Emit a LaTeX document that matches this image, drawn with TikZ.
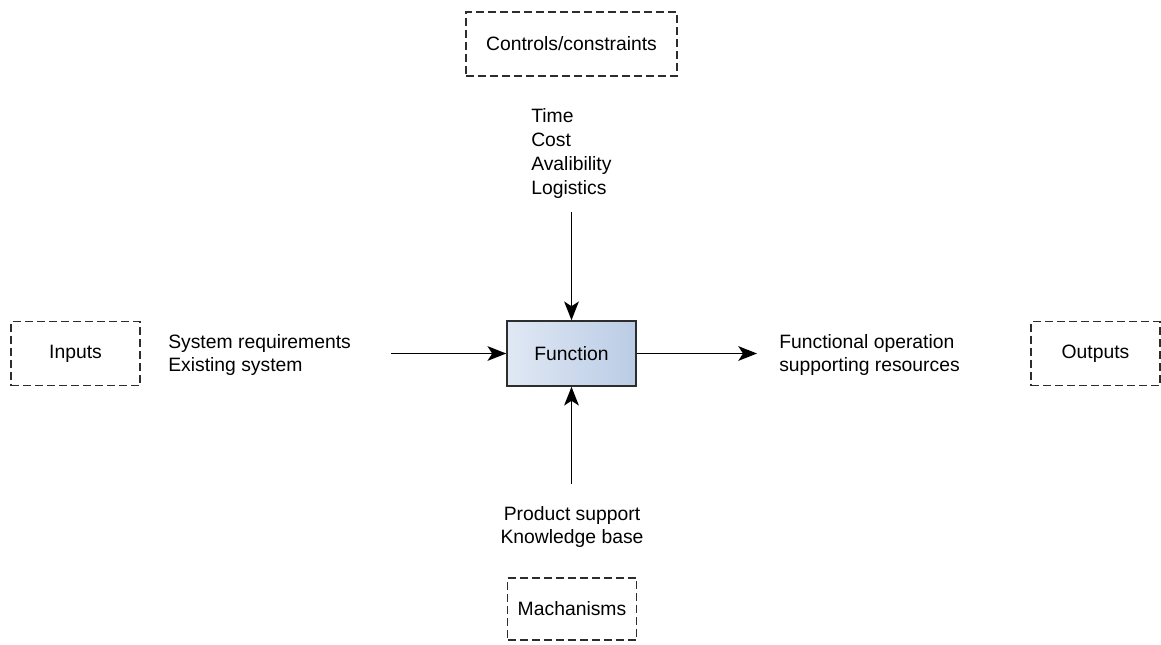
\documentclass[tikz,border=0pt]{standalone}
\usepackage{fontspec}
\setmainfont{Liberation Sans}
\usetikzlibrary{arrows.meta,positioning}
\definecolor{fnleft}{RGB}{224,232,244}
\definecolor{fnright}{RGB}{186,204,229}
\definecolor{edge}{RGB}{45,45,45}

\begin{document}
\begin{tikzpicture}[x=0.75pt,y=-0.75pt,
    font=\fontsize{14.5}{17.8}\selectfont,
    box/.style = {draw=edge, line width=1.2pt, dash pattern=on 6pt off 3pt,
                  minimum width=129*0.75pt, minimum height=64*0.75pt, inner sep=0pt},
    func/.style = {draw=edge, line width=1.2pt, left color=fnleft, right color=fnright,
                   minimum width=129*0.75pt, minimum height=65*0.75pt, inner sep=0pt},
    note/.style = {align=left, inner sep=0pt},
    flow/.style = {-{Stealth[length=14pt,width=11pt,inset=3.5pt]}, line width=1.2pt, black}]
    \useasboundingbox (0,0) rectangle (1161,644);

    % main function and the four dashed frames
    \node[func](fn) at (571.5,353.5){Function};
    \node[box, minimum width=211*0.75pt](ctrl) at (571.5,44){Controls/constraints};
    \node[box](inp) at (75.5,353.5){Inputs};
    \node[box](outp) at (1095.5,353.5){Outputs};
    \node[box, minimum height=62*0.75pt](mech) at (572,609){Machanisms};

    % labels
    \node[note, anchor=west](ctrltxt) at (531,153.5){Time\\Cost\\Avalibility\\Logistics};
    \node[note, anchor=west](inptxt) at (168,355){System requirements\\Existing system};
    \node[note, anchor=west](outtxt) at (779,355){Functional operation\\supporting resources};
    \node[note, align=center](mechtxt) at (572,527){Product support\\Knowledge base};

    % free ends of the arrows
    \coordinate (ctrlend) at (571.5,212);
    \coordinate (inpend) at (391,353.5);
    \coordinate (outend) at (757,353.5);
    \coordinate (mechend) at (571.5,484);

    \draw[flow] (ctrlend) -- (fn.north);
    \draw[flow] (inpend) -- (fn.west);
    \draw[flow] (fn.east) -- (outend);
    \draw[flow] (mechend) -- (fn.south);
\end{tikzpicture}
\end{document}
